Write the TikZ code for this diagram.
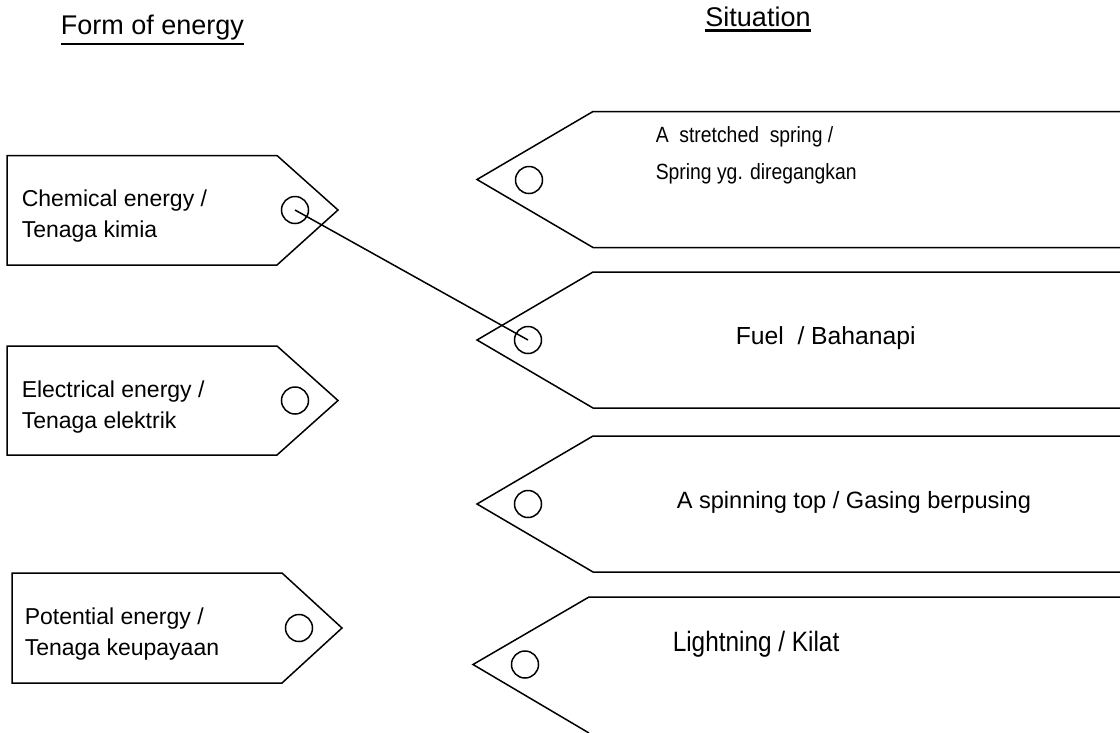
\documentclass[tikz,border=0pt]{standalone}
\usepackage{fontspec}
\setmainfont{Liberation Sans}
\begin{document}
\begin{tikzpicture}[x=1pt,y=-1pt,line width=1.5pt,
  hole/.style={draw,circle,minimum size=27pt,inner sep=0pt,line width=1.5pt},
  formtext/.style={anchor=north west,inner sep=0pt,align=left,font=\fontsize{23}{31}\selectfont},
  sittext/.style={anchor=west,inner sep=0pt,align=left},
  heading/.style={anchor=base,inner sep=0pt,font=\fontsize{27}{30}\selectfont}]
    \newcommand{\headline}[1]{
        \vtop{\hbox{#1}\kern3pt\hrule height 2.5pt}
    }
\useasboundingbox (0,0) rectangle (1120,732);

% headings
\node[heading] (formhead) at (152.5,34) {\headline{Form of energy}};
\node[heading] (sithead) at (758,26) {\headline{Situation}};

% form of energy tags
\draw (7,155.5) -- (277,155.5) -- (338,210) -- (277,265) -- (7,265) -- cycle;
\draw (7,346) -- (277,346) -- (338,400.5) -- (277,455) -- (7,455) -- cycle;
\draw (12,573) -- (282,573) -- (342,628) -- (282,683) -- (12,683) -- cycle;

\node[hole] (chemHole) at (295,210) {};
\node[hole] (elecHole) at (295,400.5) {};
\node[hole] (potHole) at (299,628) {};

\node[formtext] (chemText) at (21,189) {Chemical energy /\\Tenaga kimia};
\node[formtext] (elecText) at (21,380) {Electrical energy /\\Tenaga elektrik};
\node[formtext] (potText) at (24,607) {Potential energy /\\Tenaga keupayaan};

% situation tags
\draw (1125,111.5) -- (593,111.5) -- (477,179.5) -- (593,247.5) -- (1125,247.5);
\draw (1125,272) -- (593,272) -- (477,340) -- (593,408) -- (1125,408);
\draw (1125,436) -- (593,436) -- (477,504) -- (593,572) -- (1125,572);
\draw (1125,597) -- (589,597) -- (473,664.5) -- (589,733);

\node[hole] (springHole) at (529,180) {};
\node[hole] (fuelHole) at (528,340) {};
\node[hole] (topHole) at (528,504) {};
\node[hole] (lightHole) at (525,664.5) {};

\node[sittext,anchor=north west,font=\fontsize{22}{37}\selectfont] (springText) at (655,126)
  {\scalebox{0.88}[1]{A~ stretched~ spring /}\\\scalebox{0.88}[1]{Spring yg. diregangkan}};
\node[sittext,font=\fontsize{24.7}{28}\selectfont] (fuelText) at (735,338) {Fuel~ / Bahanapi};
\node[sittext,font=\fontsize{23.6}{28}\selectfont] (topText) at (676,502) {A spinning top / Gasing berpusing};
\node[sittext,font=\fontsize{28}{32}\selectfont] (lightText) at (672,644) {\scalebox{0.87}[1]{Lightning / Kilat}};

% the one match drawn
\draw (chemHole.center) -- (fuelHole.center);
\end{tikzpicture}
\end{document}
